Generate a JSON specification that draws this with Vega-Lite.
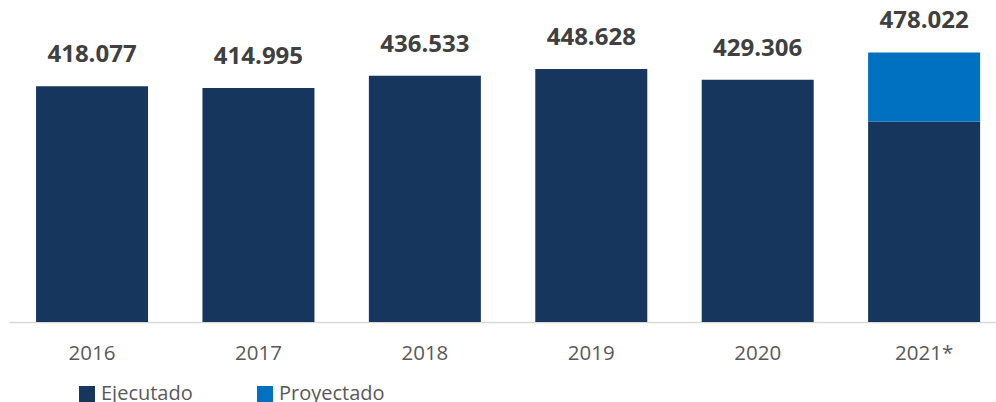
{
  "$schema": "https://vega.github.io/schema/vega-lite/v6.json",
  "width": 987,
  "height": 282,
  "autosize": {"type": "none"},
  "padding": {"left": 9, "top": 40, "right": 0, "bottom": 80},
  "background": "white",
  "config": {
    "view": {"stroke": null},
    "font": "Open Sans",
    "locale": {"number": {"decimal": ",", "thousands": ".", "grouping": [3], "currency": ["$", ""]}}
  },
  "data": {
    "values": [
      {"year": "2016", "tipo": "Ejecutado", "value": 418077},
      {"year": "2017", "tipo": "Ejecutado", "value": 414995},
      {"year": "2018", "tipo": "Ejecutado", "value": 436533},
      {"year": "2019", "tipo": "Ejecutado", "value": 448628},
      {"year": "2020", "tipo": "Ejecutado", "value": 429306},
      {"year": "2021*", "tipo": "Ejecutado", "value": 355500},
      {"year": "2021*", "tipo": "Proyectado", "value": 122522}
    ]
  },
  "encoding": {
    "x": {
      "field": "year",
      "type": "nominal",
      "sort": null,
      "scale": {"paddingInner": 0.327, "paddingOuter": 0.129, "align": 0.63},
      "axis": {
        "title": null,
        "labelAngle": 0,
        "labelFont": "Open Sans",
        "labelFontSize": 20.5,
        "labelColor": "#595959",
        "labelPadding": 21,
        "ticks": false,
        "domain": true,
        "domainColor": "#D9D9D9",
        "domainWidth": 1.5,
        "grid": false
      }
    }
  },
  "layer": [
    {
      "mark": {"type": "bar"},
      "encoding": {
        "y": {
          "field": "value",
          "type": "quantitative",
          "stack": "zero",
          "scale": {"domain": [0, 500000], "nice": false, "zero": true},
          "axis": null
        },
        "color": {
          "field": "tipo",
          "type": "nominal",
          "scale": {"domain": ["Ejecutado", "Proyectado"], "range": ["#17365D", "#0070C0"]},
          "legend": {
            "title": null,
            "orient": "none",
            "direction": "horizontal",
            "legendX": 68,
            "legendY": 344,
            "symbolType": "square",
            "symbolSize": 256,
            "symbolStrokeWidth": 0,
            "labelFont": "Open Sans",
            "labelFontSize": 20,
            "labelColor": "#595959",
            "labelOffset": 4,
            "columnPadding": 62,
            "labelLimit": 300
          }
        },
        "order": {"field": "tipo", "sort": "ascending"}
      }
    },
    {
      "transform": [
        {"aggregate": [{"op": "sum", "field": "value", "as": "total"}], "groupby": ["year"]}
      ],
      "mark": {
        "type": "text",
        "font": "Open Sans",
        "fontWeight": "bold",
        "fontSize": 24,
        "color": "#404040",
        "baseline": "alphabetic",
        "dy": -24
      },
      "encoding": {
        "y": {"field": "total", "type": "quantitative"},
        "text": {"field": "total", "type": "quantitative", "format": ",d"}
      }
    }
  ]
}
